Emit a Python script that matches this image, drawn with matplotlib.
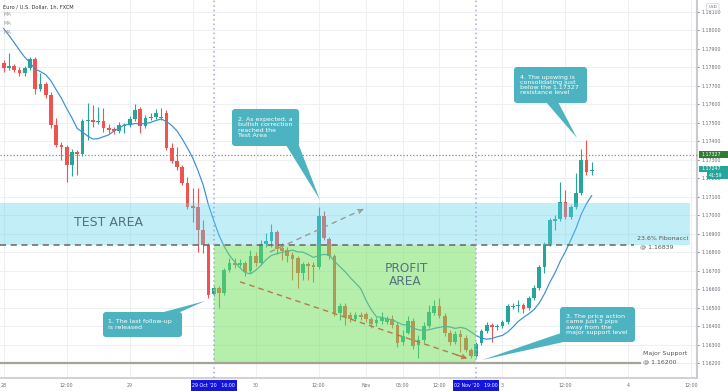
import matplotlib
matplotlib.use('Agg')
import matplotlib.pyplot as plt
import matplotlib.transforms as mtransforms
from matplotlib.patches import Rectangle, FancyBboxPatch, Polygon
import numpy as np
import pandas as pd

plt.rcParams['font.family'] = ['DejaVu Sans']

# ---------------- data (EUR/USD 1h, FXCM) ----------------
opens = [1.17824, 1.17797, 1.17808, 1.17786, 1.17770, 1.17797, 1.17845, 1.17683, 1.17710, 1.17651,
         1.17488, 1.17380, 1.17369, 1.17272, 1.17342, 1.17331, 1.17510, 1.17515, 1.17504, 1.17510,
         1.17472, 1.17466, 1.17456, 1.17483, 1.17488, 1.17520, 1.17575, 1.17483, 1.17526, 1.17531,
         1.17526, 1.17553, 1.17364, 1.17294, 1.17261, 1.17175, 1.17051, 1.17045, 1.16921, 1.16840,
         1.16575, 1.16608, 1.16581, 1.16705, 1.16743, 1.16732, 1.16743, 1.16700, 1.16781, 1.16743,
         1.16845, 1.16862, 1.16910, 1.16824, 1.16813, 1.16786, 1.16770, 1.16689, 1.16737, 1.16732,
         1.16721, 1.16997, 1.16872, 1.16781, 1.16472, 1.16510, 1.16461, 1.16439, 1.16461, 1.16466,
         1.16439, 1.16418, 1.16429, 1.16423, 1.16439, 1.16407, 1.16315, 1.16364, 1.16429, 1.16299,
         1.16326, 1.16402, 1.16472, 1.16510, 1.16456, 1.16364, 1.16315, 1.16358, 1.16337, 1.16272,
         1.16240, 1.16310, 1.16375, 1.16407, 1.16396, 1.16402, 1.16423, 1.16504, 1.16510, 1.16515,
         1.16499, 1.16554, 1.16608, 1.16721, 1.16845, 1.16970, 1.16980, 1.17072, 1.16991, 1.17045,
         1.17121, 1.17299, 1.17240]
highs = [1.17840, 1.17878, 1.17818, 1.17802, 1.17808, 1.17856, 1.17856, 1.17770, 1.17721, 1.17667,
         1.17526, 1.17396, 1.17380, 1.17358, 1.17353, 1.17520, 1.17608, 1.17597, 1.17586, 1.17581,
         1.17493, 1.17477, 1.17504, 1.17499, 1.17537, 1.17602, 1.17586, 1.17542, 1.17553, 1.17575,
         1.17581, 1.17569, 1.17391, 1.17369, 1.17272, 1.17207, 1.17148, 1.17148, 1.16975, 1.16851,
         1.16619, 1.16619, 1.16716, 1.16770, 1.16770, 1.16764, 1.16754, 1.16813, 1.16802, 1.16867,
         1.16905, 1.16953, 1.16921, 1.16851, 1.16829, 1.16802, 1.16781, 1.16748, 1.16748, 1.16748,
         1.17045, 1.17024, 1.16883, 1.16791, 1.16526, 1.16526, 1.16477, 1.16477, 1.16477, 1.16477,
         1.16450, 1.16450, 1.16477, 1.16456, 1.16461, 1.16423, 1.16380, 1.16456, 1.16445, 1.16353,
         1.16423, 1.16515, 1.16542, 1.16554, 1.16472, 1.16380, 1.16375, 1.16380, 1.16353, 1.16283,
         1.16315, 1.16385, 1.16423, 1.16418, 1.16412, 1.16434, 1.16520, 1.16526, 1.16542, 1.16526,
         1.16565, 1.16624, 1.16732, 1.16856, 1.16986, 1.17002, 1.17180, 1.17137, 1.17056, 1.17229,
         1.17358, 1.17407, 1.17288]
lows = [1.17775, 1.17786, 1.17775, 1.17754, 1.17754, 1.17786, 1.17656, 1.17673, 1.17635, 1.17472,
        1.17369, 1.17299, 1.17180, 1.17213, 1.17218, 1.17321, 1.17407, 1.17477, 1.17493, 1.17450,
        1.17445, 1.17439, 1.17445, 1.17445, 1.17477, 1.17510, 1.17445, 1.17472, 1.17515, 1.17520,
        1.17515, 1.17353, 1.17283, 1.17245, 1.17164, 1.17034, 1.16964, 1.16802, 1.16797, 1.16554,
        1.16565, 1.16499, 1.16570, 1.16694, 1.16716, 1.16721, 1.16673, 1.16689, 1.16727, 1.16732,
        1.16829, 1.16829, 1.16791, 1.16759, 1.16748, 1.16651, 1.16608, 1.16651, 1.16651, 1.16640,
        1.16710, 1.16867, 1.16764, 1.16456, 1.16434, 1.16407, 1.16423, 1.16429, 1.16434, 1.16423,
        1.16391, 1.16402, 1.16412, 1.16412, 1.16391, 1.16288, 1.16299, 1.16358, 1.16277, 1.16229,
        1.16310, 1.16391, 1.16461, 1.16445, 1.16348, 1.16299, 1.16304, 1.16261, 1.16261, 1.16230,
        1.16235, 1.16299, 1.16364, 1.16315, 1.16380, 1.16391, 1.16412, 1.16493, 1.16477, 1.16472,
        1.16488, 1.16542, 1.16597, 1.16689, 1.16835, 1.16921, 1.16970, 1.16980, 1.16980, 1.17034,
        1.17110, 1.17218, 1.17218]
closes = [1.17797, 1.17808, 1.17786, 1.17770, 1.17797, 1.17845, 1.17683, 1.17710, 1.17651, 1.17488,
          1.17380, 1.17369, 1.17272, 1.17342, 1.17331, 1.17510, 1.17515, 1.17504, 1.17510, 1.17472,
          1.17461, 1.17456, 1.17488, 1.17488, 1.17520, 1.17569, 1.17483, 1.17526, 1.17531, 1.17553,
          1.17531, 1.17364, 1.17294, 1.17261, 1.17175, 1.17045, 1.17040, 1.16921, 1.16840, 1.16570,
          1.16608, 1.16581, 1.16705, 1.16743, 1.16732, 1.16743, 1.16694, 1.16781, 1.16743, 1.16845,
          1.16862, 1.16910, 1.16818, 1.16808, 1.16781, 1.16764, 1.16689, 1.16737, 1.16727, 1.16721,
          1.16997, 1.16878, 1.16781, 1.16472, 1.16510, 1.16450, 1.16439, 1.16461, 1.16450, 1.16439,
          1.16412, 1.16434, 1.16445, 1.16439, 1.16407, 1.16310, 1.16348, 1.16429, 1.16294, 1.16326,
          1.16402, 1.16477, 1.16510, 1.16456, 1.16364, 1.16315, 1.16358, 1.16342, 1.16272, 1.16240,
          1.16304, 1.16375, 1.16407, 1.16396, 1.16402, 1.16423, 1.16510, 1.16510, 1.16515, 1.16493,
          1.16554, 1.16608, 1.16721, 1.16845, 1.16975, 1.16980, 1.17072, 1.16991, 1.17045, 1.17121,
          1.17299, 1.17234, 1.17247]
# closes of the 8 hours before the visible window (MA warm-up)
pre_closes = [1.18137, 1.18137, 1.18137, 1.18137, 1.18110, 1.18002, 1.17829, 1.17797]
ma_length = 9

x_ticks = [0, 12, 24, 36, 48, 60, 69, 76, 83, 95, 107, 119, 131]
x_labels = ['28', '12:00', '29', '', '30', '12:00', 'Nov', '05:00', '12:00', '3', '12:00', '4', '12:00']
y_ticks = [round(1.162 + 0.001 * k, 3) for k in range(20)]

marker_bars = [40, 90]
marker_labels = ["29 Oct '20   16:00", "02 Nov '20   19:00"]

resistance = 1.17327
fib_level = 1.16839
support = 1.16200
test_area_top = 1.17067
last_price = 1.17247

down_trend = [(45.0, 1.16641), (88.8, 1.16222)]
up_projection = [(50.7, 1.16802), (69.0, 1.17040)]

# ---------------- figure ----------------
W, H = 728, 391
fig = plt.figure(figsize=(W / 100, H / 100), dpi=100)
ax = fig.add_axes([0, 13 / H, 697 / W, 378 / H])
ax.set_xlim(-0.705, 132.06)
ax.set_ylim(1.16121, 1.18164)

px = mtransforms.Affine2D().scale(1 / W, -1 / H).translate(0, 1) + fig.transFigure

UP, DOWN = '#26a69a', '#ef5350'
n = len(closes)
idx = np.arange(n)
o = np.array(opens); c = np.array(closes); hi = np.array(highs); lo = np.array(lows)
cols = [UP if c[i] >= o[i] else DOWN for i in range(n)]
body_lo = np.minimum(o, c)
body_h = np.maximum(np.abs(c - o), 0.00003)
ax.vlines(idx, lo, hi, colors=cols, lw=0.8, zorder=2)
ax.bar(idx, body_h, bottom=body_lo, width=0.72, color=cols, lw=0, zorder=2.5)

# moving average
allc = pd.Series(pre_closes + closes)
ma = allc.rolling(ma_length).mean().values[len(pre_closes):]
ax.plot(idx, ma, color='#3b8fd0', lw=0.85, zorder=3)

# zones
ax.add_patch(Rectangle((-0.705, fib_level), 131.4, test_area_top - fib_level,
                       facecolor='#5fd3ec', alpha=0.38, lw=0, zorder=4))
ax.add_patch(Rectangle((marker_bars[0], support), marker_bars[1] - marker_bars[0], fib_level - support,
                       facecolor='#6fe05a', alpha=0.5, lw=0, zorder=4))

# horizontal levels
ax.plot([-0.705, 132.06], [resistance, resistance], color='#8a8a78', lw=0.9, ls=(0, (1, 1.6)), zorder=5)
ax.plot([-0.705, 120.0], [fib_level, fib_level], color='#6f625a', lw=1.1, ls=(0, (4, 3)), zorder=5)
ax.plot([-0.705, 121.2], [support, support], color='#a4a496', lw=1.6, zorder=5)

# vertical markers
for b in marker_bars:
    ax.axvline(b, color='#a3a6d6', lw=1.1, ls=(0, (1, 2)), zorder=5)

# trend lines with arrows
def dashed_arrow(pts, color):
    (x0, y0), (x1, y1) = pts
    ax.plot([x0, x1], [y0, y1], color=color, lw=1.0, ls=(0, (4, 3)), zorder=5)
    ax.annotate('', xy=(x1, y1), xytext=(x0 + (x1 - x0) * 0.93, y0 + (y1 - y0) * 0.93),
                arrowprops=dict(arrowstyle='->', color=color, lw=1.0, mutation_scale=7), zorder=5)

dashed_arrow(down_trend, '#b87a48')
dashed_arrow(up_projection, '#9a9a9a')

# grid
for t in x_ticks:
    ax.axvline(t, color='#eef0f4', lw=0.8, zorder=0)
for t in y_ticks:
    ax.axhline(t, color='#eef0f4', lw=0.8, zorder=0)

# axes styling
for s in ['top', 'left']:
    ax.spines[s].set_visible(False)
ax.spines['right'].set_color('#c8cad0')
ax.spines['right'].set_linewidth(1.5)
ax.spines['bottom'].set_color('#c8cad0')
ax.spines['bottom'].set_linewidth(1.2)
ax.yaxis.tick_right()
ax.set_yticks(y_ticks)
ax.set_yticklabels(['%.5f' % v for v in y_ticks])
ax.tick_params(axis='y', labelsize=3.4, colors='#6a6d78', length=1.5, width=0.6, pad=1.5)
ax.set_xticks(x_ticks)
ax.set_xticklabels(x_labels)
ax.tick_params(axis='x', labelsize=3.4, colors='#6a6d78', length=0, pad=3.5)

# area labels
ax.text(108, 0, '', transform=ax.transData)
fig.text(108, 222, 'TEST AREA', transform=px, fontsize=9, color='#55707c',
         ha='center', va='center', zorder=6)
fig.text(406.5, 268.7, 'PROFIT', transform=px, fontsize=8.7, color='#557480',
         ha='center', va='center', zorder=6)
fig.text(405, 281.7, 'AREA', transform=px, fontsize=8.7, color='#557480',
         ha='center', va='center', zorder=6)

# level labels
fig.text(637, 239, '23.6% Fibonacci', transform=px, fontsize=4.5, color='#555',
         ha='left', va='center', zorder=6)
fig.text(640, 246.5, '@ 1.16839', transform=px, fontsize=4.5, color='#555',
         ha='left', va='center', zorder=6)
fig.text(643, 354, 'Major Support', transform=px, fontsize=4.5, color='#555',
         ha='left', va='center', zorder=6)
fig.text(643, 361.5, '@ 1.16200', transform=px, fontsize=4.5, color='#555',
         ha='left', va='center', zorder=6)

# callouts
CALL = '#4eb3c1'
callouts = [
    ((103, 312, 79, 25), [(160, 313), (178, 313), (205, 301)],
     '1. The last follow-up\nis released'),
    ((232, 109, 67, 37), [(286, 145), (298, 143), (320, 200)],
     '2. As expected, a\nbullish correction\nreached the\nTest Area'),
    ((560, 307, 75, 35), [(561, 333), (568, 341), (482, 360)],
     '3. The price action\ncame just 3 pips\naway from the\nmajor support level'),
    ((514, 67, 73, 36), [(546, 102), (558, 102), (577, 138)],
     '4. The upswing is\nconsolidating just\nbelow the 1.17327\nresistance level'),
]
for (bx, by, bw, bh), tri, txt in callouts:
    fig.add_artist(Polygon(tri, closed=True, transform=px, facecolor=CALL, edgecolor='none', zorder=7))
    fig.add_artist(FancyBboxPatch((bx, by), bw, bh, boxstyle='round,pad=0,rounding_size=3',
                                  transform=px, facecolor=CALL, edgecolor='none', zorder=7))
    fig.text(bx + 5.5, by + bh / 2, txt, transform=px, fontsize=4.5, color='white',
             ha='left', va='center', linespacing=1.08, zorder=8)

# header
fig.text(3, 7, 'Euro / U.S. Dollar, 1h, FXCM', transform=px, fontsize=3.7, color='#333',
         ha='left', va='center')
for yy in [15, 23.5, 32]:
    fig.text(3, yy, 'MA', transform=px, fontsize=3.7, color='#999', ha='left', va='center')

# right price labels
fig.add_artist(FancyBboxPatch((706.5, 3.5), 12.5, 7, boxstyle='round,pad=0,rounding_size=1',
                              transform=px, facecolor='white', edgecolor='#cfd2d8', lw=0.5))
fig.text(712.7, 7, 'USD', transform=px, fontsize=3, color='#666', ha='center', va='center')
fig.add_artist(Rectangle((699, 150.5), 28.5, 7.5, transform=px, facecolor='#2e7d32', lw=0, zorder=7))
fig.text(701.5, 154.4, '%.5f' % resistance, transform=px, fontsize=3.4, color='white',
         ha='left', va='center', zorder=8)
fig.add_artist(Rectangle((699, 165.5), 28.5, 6.5, transform=px, facecolor='#26a69a', lw=0, zorder=7))
fig.text(701.5, 168.8, '%.5f' % last_price, transform=px, fontsize=3.4, color='white',
         ha='left', va='center', zorder=8)
fig.add_artist(Rectangle((706.5, 172), 21, 6.5, transform=px, facecolor='#26a69a', lw=0, zorder=7))
fig.text(709, 175.3, '41:59', transform=px, fontsize=3.4, color='white',
         ha='left', va='center', zorder=8)

# date marker boxes on the time axis
for b, lab in zip(marker_bars, marker_labels):
    xc = 3.7 + 5.25 * b
    fig.add_artist(Rectangle((xc - 23, 379.5), 46, 11.5, transform=px, facecolor='#1414e0', lw=0, zorder=7))
    fig.text(xc, 385.3, lab, transform=px, fontsize=3.4, color='white', ha='center', va='center', zorder=8)

fig.savefig('out.png', dpi=100)
